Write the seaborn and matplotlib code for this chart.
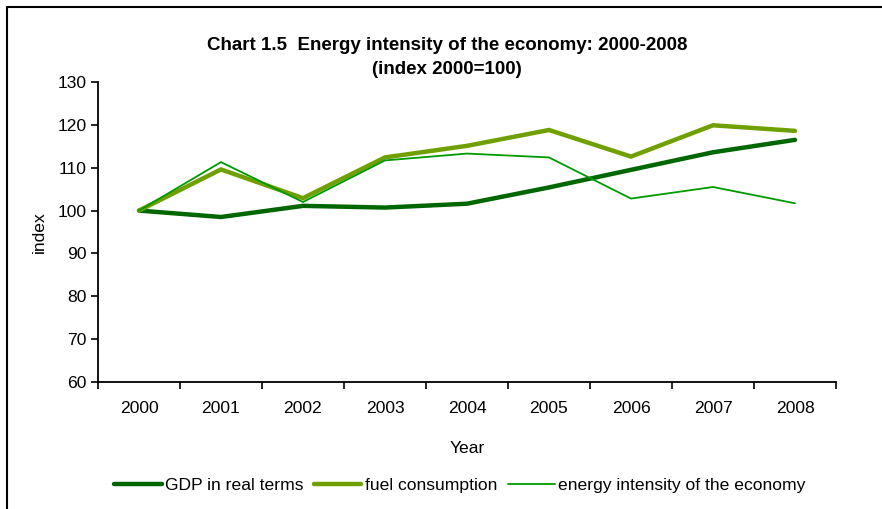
import numpy as np
import pandas as pd
import matplotlib
matplotlib.use("Agg")
import matplotlib.pyplot as plt
import seaborn as sns
from matplotlib.lines import Line2D

years = ["2000", "2001", "2002", "2003", "2004", "2005", "2006", "2007", "2008"]
gdp = [100.0, 98.5, 101.1, 100.7, 101.6, 105.4, 109.5, 113.6, 116.5]
fuel = [100.0, 109.6, 102.9, 112.4, 115.1, 118.8, 112.6, 119.9, 118.6]
energy = [100.0, 111.3, 102.0, 111.7, 113.3, 112.4, 102.8, 105.5, 101.7]

series_names = ["GDP in real terms", "fuel consumption", "energy intensity of the economy"]
colors = ["#006600", "#6FA000", "#009A00"]
widths = [3.2, 3.2, 1.3]

sns.set_style("ticks", {"text.color": "black", "axes.labelcolor": "black",
                        "xtick.color": "black", "ytick.color": "black"})
plt.rcParams["font.family"] = ["Liberation Sans", "DejaVu Sans"]

df = pd.DataFrame({
    "Year": years * 3,
    "pos": list(range(len(years))) * 3,
    "value": gdp + fuel + energy,
    "series": [s for s in series_names for _ in years],
})

fs = 12.6

fig = plt.figure(figsize=(8.82, 5.09), dpi=100)
ax = fig.add_axes([98 / 882, 1 - 382 / 509, (836 - 98) / 882, (382 - 82) / 509])

for name, col, lw in zip(series_names, colors, widths):
    sub = df[df["series"] == name]
    sns.lineplot(data=sub, x="pos", y="value", ax=ax, color=col, linewidth=lw,
                 legend=False, solid_joinstyle="miter")

ax.set_xlim(-0.5, len(years) - 0.5)
ax.set_ylim(60, 130)
ax.set_yticks(np.arange(60, 131, 10))
ax.set_xticks(np.arange(len(years)))
ax.set_xticklabels(years)
ax.set_xticks(np.arange(-0.5, len(years), 1), minor=True)
ax.tick_params(axis="x", which="major", length=0, pad=14, labelsize=fs)
ax.tick_params(axis="x", which="minor", length=5, width=1.2, direction="out")
ax.tick_params(axis="y", length=5, width=1.2, direction="out", labelsize=fs, pad=3)
for side in ["top", "right"]:
    ax.spines[side].set_visible(False)
for side in ["left", "bottom"]:
    ax.spines[side].set_linewidth(1.3)
    ax.spines[side].set_color("black")

ax.set_xlabel("Year", fontsize=fs, labelpad=18)
ax.set_ylabel("index", fontsize=fs, labelpad=8)

fig.text(447 / 882, 1 - 45 / 509, "Chart 1.5  Energy intensity of the economy: 2000-2008",
         ha="center", va="center", fontsize=13.5, fontweight="bold")
fig.text(447 / 882, 1 - 70 / 509, "(index 2000=100)",
         ha="center", va="center", fontsize=13.5, fontweight="bold")

handles = [Line2D([0], [0], color=c, lw=w) for c, w in zip(colors, widths)]
fig.legend(handles, series_names, loc="center", bbox_to_anchor=(460 / 882, 1 - 485 / 509),
           ncol=3, frameon=False, fontsize=fs, handlelength=2.7, handletextpad=0.2,
           columnspacing=0.6)

# outer frame (cropped on right and bottom)
fig.add_artist(Line2D([7 / 882, 7 / 882], [0, 1 - 7 / 509], color="black", lw=1.5,
                      transform=fig.transFigure))
fig.add_artist(Line2D([7 / 882, 1], [1 - 7 / 509, 1 - 7 / 509], color="black", lw=1.5,
                      transform=fig.transFigure))

fig.savefig("out.png", dpi=100)
plt.close(fig)
